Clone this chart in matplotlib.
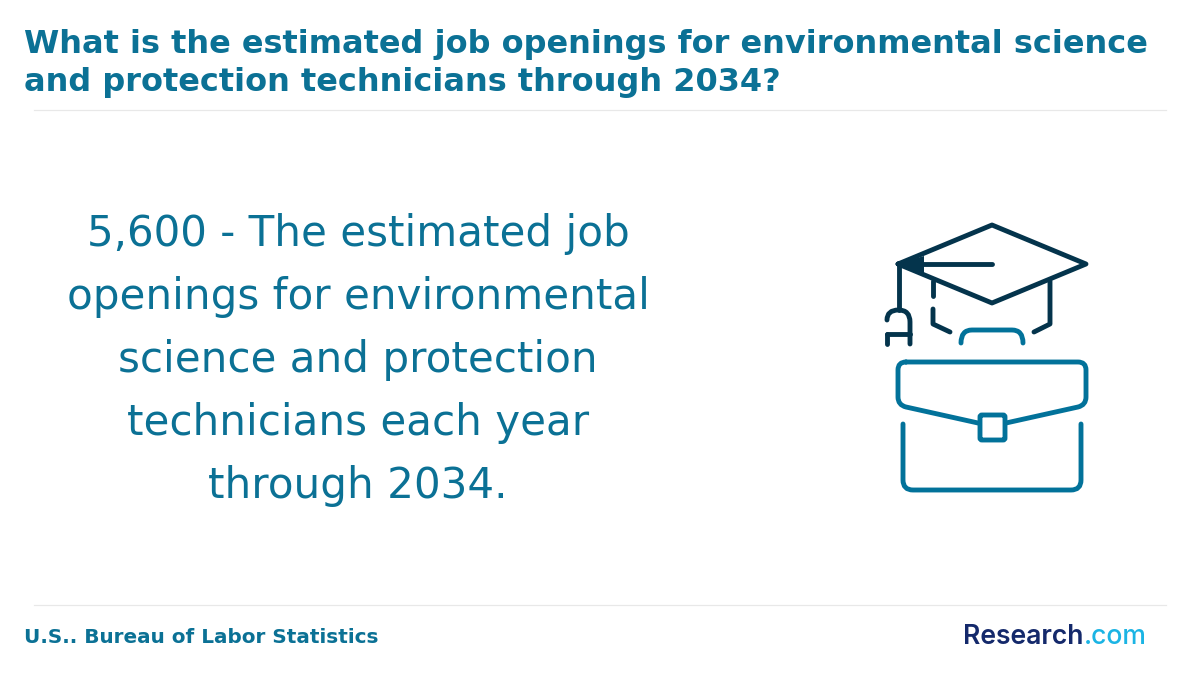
import matplotlib
matplotlib.use("Agg")
import matplotlib.pyplot as plt
from matplotlib.path import Path
from matplotlib.patches import PathPatch, FancyBboxPatch

TITLE_LINES = ["What is the estimated job openings for environmental science",
               "and protection technicians through 2034?"]
BODY_LINES = ["5,600 - The estimated job", "openings for environmental",
              "science and protection", "technicians each year", "through 2034."]
SOURCE = "U.S.. Bureau of Labor Statistics"
LOGO_A = "Research"
LOGO_B = ".com"

TEAL = "#0b7195"
DARK = "#04344c"
ICON = "#02729a"

fig = plt.figure(figsize=(12, 6.8), dpi=100, facecolor="white")
ax = fig.add_axes([0, 0, 1, 1])
ax.set_xlim(0, 1200)
ax.set_ylim(680, 0)
ax.axis("off")

for i, line in enumerate(TITLE_LINES):
    ax.text(24, 44.5 + i * 38, line, color=TEAL, fontsize=23.0, fontweight="bold",
            ha="left", va="center", family="DejaVu Sans")

for y in (110, 605):
    ax.plot([34, 1166], [y, y], color="#e8e8e8", lw=0.9)

for i, line in enumerate(BODY_LINES):
    ax.text(358, 234.3 + i * 63, line, color=TEAL, fontsize=30.25, ha="center",
            va="center", family="DejaVu Sans")

ax.text(24, 637.5, SOURCE, color=TEAL, fontsize=14.4, fontweight="bold", ha="left",
        va="center", family="DejaVu Sans")

def stroke(pts, color, lw=3.5, closed=False, join="round"):
    xs, ys = zip(*pts)
    if closed:
        xs += (xs[0],)
        ys += (ys[0],)
    ax.plot(xs, ys, color=color, lw=lw, solid_capstyle="round", solid_joinstyle=join)

def curve(verts, codes, color, lw=3.5):
    ax.add_patch(PathPatch(Path(verts, codes), fill=False, edgecolor=color, lw=lw,
                           capstyle="round", joinstyle="round"))

M, L, C3 = Path.MOVETO, Path.LINETO, Path.CURVE3

# graduation cap
stroke([(898, 264), (992, 225), (1086, 264), (992, 303)], DARK, closed=True)
stroke([(992, 264), (916, 264)], DARK)
ax.fill([897, 924, 924], [264, 256, 273], color=DARK, lw=0)
stroke([(899, 264), (899, 310)], DARK)
stroke([(933, 281), (933, 296)], DARK, join="miter")
stroke([(933, 309), (933, 324), (950, 332)], DARK)
stroke([(1050, 281), (1050, 324), (1034, 332)], DARK)
curve([(887, 320), (887, 310), (898.5, 310), (910, 310), (910, 322), (910, 344)],
      [M, C3, C3, C3, C3, L], DARK)
stroke([(887, 334), (910, 334)], DARK)
stroke([(887, 334), (887, 344)], DARK)

# briefcase
curve([(961, 343), (961, 330), (972, 330), (1012, 330), (1023, 330), (1023, 343)],
      [M, C3, C3, L, C3, C3], ICON)
curve([(906, 362), (1078, 362), (1086, 362), (1086, 370), (1086, 397), (1086, 405), (1078, 407),
       (1006, 423), (978, 423), (906, 407), (898, 405), (898, 397), (898, 370), (898, 362), (906, 362)],
      [M, L, C3, C3, L, C3, C3, L, M, L, C3, C3, L, C3, C3], ICON)
ax.add_patch(FancyBboxPatch((980, 415), 25, 25, boxstyle="round,pad=0,rounding_size=2",
                            facecolor="white", edgecolor=ICON, lw=3.5, zorder=3))
curve([(903, 424), (903, 480), (903, 490), (913, 490), (1071, 490), (1081, 490), (1081, 480), (1081, 424)],
      [M, L, C3, C3, L, C3, C3, L], ICON)

# logo
t = ax.text(963, 637, LOGO_A, color="#14296b", fontsize=19.1, fontweight="semibold",
            ha="left", va="center", family="Inter")
fig.canvas.draw()
bb = t.get_window_extent()
ax.text(bb.x1 + 0.5, 637, LOGO_B, color="#1bb4e4", fontsize=19.1, fontweight="medium",
        ha="left", va="center", family="Inter")

fig.savefig("out.png", dpi=100, facecolor="white")
